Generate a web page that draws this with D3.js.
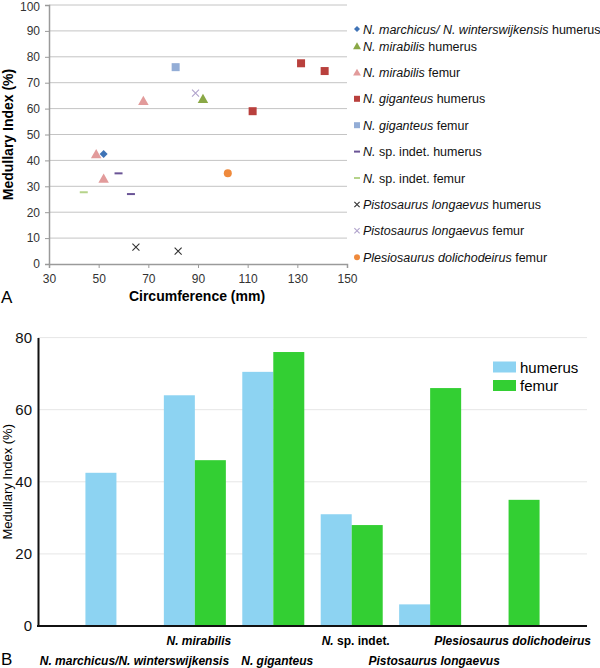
<!DOCTYPE html>
<html>
<head>
<meta charset="utf-8">
<script src="https://cdn.jsdelivr.net/npm/d3@7"></script>
<style>
  body { margin: 0; background: #fff; }
  svg { font-family: "Liberation Sans", Arial, sans-serif; display: block; }
</style>
</head>
<body>
<div id="chart"></div>
<script>
// ---- panel A data: [circumference (mm), medullary index (%)]
const marchicusHumerus = [[52, 42.5]];
const mirabilisHumerus = [[92, 63.8]];
const mirabilisFemur = [[68, 63], [49, 42.5], [52, 33]];
const giganteusHumerus = [[131.5, 77.5], [141, 74.5], [112, 59]];
const giganteusFemur = [[81, 76]];
const spIndetHumerus = [[58, 35], [63, 27]];
const spIndetFemur = [[44, 27.7]];
const pistoHumerus = [[65, 6.5], [82, 5]];
const pistoFemur = [[89, 66]];
const plesioFemur = [[102, 35]];

const xTicksA = [30, 50, 70, 90, 110, 130, 150];
const yTicksA = [0, 10, 20, 30, 40, 50, 60, 70, 80, 90, 100];

// ---- panel B data
const taxa = ["N. marchicus/N. winterswijkensis", "N. mirabilis", "N. giganteus",
  "N. sp. indet.", "Pistosaurus longaevus", "Plesiosaurus dolichodeirus"];
const humerusMI = [42.5, 64, 70.5, 31, 6, null];
const femurMI = [null, 46, 76, 28, 66, 35];
const yTicksB = [0, 20, 40, 60, 80];

const width = 600, height = 668;
const svg = d3.select("#chart").append("svg")
  .attr("width", width).attr("height", height);

// ================= panel A =================
const xA = d3.scaleLinear().domain([30, 150]).range([49, 347]);
const yA = d3.scaleLinear().domain([0, 100]).range([264, 5]);

const gA = svg.append("g");

gA.append("g").selectAll("line").data(yTicksA.filter(d => d > 0)).join("line")
  .attr("x1", xA(30)).attr("x2", xA(150))
  .attr("y1", d => yA(d)).attr("y2", d => yA(d))
  .attr("stroke", "#c4c4c4").attr("stroke-width", 1);

gA.append("g")
  .attr("transform", `translate(${xA(30)},0)`)
  .call(d3.axisLeft(yA).tickValues(yTicksA).tickSize(4).tickPadding(5))
  .call(g => g.select(".domain").attr("stroke", "#9a9a9a").attr("stroke-width", 1.5))
  .call(g => g.selectAll(".tick line").attr("stroke", "#9a9a9a"))
  .call(g => g.selectAll("text").attr("font-size", 12).attr("fill", "#333")
    .attr("dy", d => d === 100 ? "0.45em" : "0.32em")
    .attr("font-family", "Liberation Sans, Arial, sans-serif"));

gA.append("g")
  .attr("transform", `translate(0,${yA(0)})`)
  .call(d3.axisBottom(xA).tickValues(xTicksA).tickSize(4).tickPadding(6))
  .call(g => g.select(".domain").attr("stroke", "#9a9a9a").attr("stroke-width", 1.5))
  .call(g => g.selectAll(".tick line").attr("stroke", "#9a9a9a"))
  .call(g => g.selectAll("text").attr("font-size", 12).attr("fill", "#333")
    .attr("font-family", "Liberation Sans, Arial, sans-serif"));

gA.append("text")
  .attr("transform", `translate(13,${yA(50)}) rotate(-90)`)
  .attr("text-anchor", "middle")
  .attr("font-size", 14).attr("font-weight", "bold")
  .text("Medullary Index (%)");

gA.append("text")
  .attr("x", 197).attr("y", 301)
  .attr("text-anchor", "middle")
  .attr("font-size", 14).attr("font-weight", "bold")
  .text("Circumference (mm)");

svg.append("text").attr("x", 1).attr("y", 303).attr("font-size", 17).text("A");
svg.append("text").attr("x", 1).attr("y", 665).attr("font-size", 17).text("B");

// marker shapes
function drawMarker(g, type, color, s) {
  if (type === "diamond") {
    g.append("path").attr("d", `M0,${-s}L${s},0L0,${s}L${-s},0Z`).attr("fill", color);
  } else if (type === "triangle") {
    g.append("path").attr("d", `M0,${-s}L${s * 1.05},${s * 0.85}L${-s * 1.05},${s * 0.85}Z`).attr("fill", color);
  } else if (type === "square") {
    g.append("rect").attr("x", -s).attr("y", -s).attr("width", 2 * s).attr("height", 2 * s).attr("fill", color);
  } else if (type === "dash") {
    g.append("rect").attr("x", -s).attr("y", -1).attr("width", 2 * s).attr("height", 2).attr("fill", color);
  } else if (type === "cross") {
    g.append("path").attr("d", `M${-s},${-s}L${s},${s}M${-s},${s}L${s},${-s}`)
      .attr("stroke", color).attr("stroke-width", 1.1).attr("fill", "none");
  } else if (type === "circle") {
    g.append("circle").attr("r", s).attr("fill", color);
  }
}

const seriesA = [
  { pts: marchicusHumerus, type: "diamond", color: "#3f73b6", s: 4, it: "N. marchicus/ N. winterswijkensis", rest: " humerus" },
  { pts: mirabilisHumerus, type: "triangle", color: "#8aa846", s: 5, it: "N. mirabilis", rest: " humerus" },
  { pts: mirabilisFemur, type: "triangle", color: "#e29b9b", s: 5, it: "N. mirabilis", rest: " femur" },
  { pts: giganteusHumerus, type: "square", color: "#b9403d", s: 4, it: "N. giganteus", rest: " humerus" },
  { pts: giganteusFemur, type: "square", color: "#93add6", s: 4, it: "N. giganteus", rest: " femur" },
  { pts: spIndetHumerus, type: "dash", color: "#6a5496", s: 4, it: "N.", rest: " sp. indet. humerus" },
  { pts: spIndetFemur, type: "dash", color: "#b5d38a", s: 4, it: "N.", rest: " sp. indet. femur" },
  { pts: pistoHumerus, type: "cross", color: "#333", s: 3.5, it: "Pistosaurus longaevus", rest: " humerus" },
  { pts: pistoFemur, type: "cross", color: "#b0a3cc", s: 3.5, it: "Pistosaurus longaevus", rest: " femur" },
  { pts: plesioFemur, type: "circle", color: "#ef8a3c", s: 4, it: "Plesiosaurus dolichodeirus", rest: " femur" }
];

seriesA.forEach(sr => {
  sr.pts.forEach(p => {
    const g = gA.append("g").attr("transform", `translate(${xA(p[0])},${yA(p[1])})`);
    drawMarker(g, sr.type, sr.color, sr.s);
  });
});

// legend A
const legY = i => i === 0 ? 29 : 46 + (i - 1) * 26.4;
seriesA.forEach((sr, i) => {
  const g = gA.append("g").attr("transform", `translate(357,${legY(i)})`);
  drawMarker(g, sr.type, sr.color, sr.s * 0.75);
  const t = g.append("text").attr("x", 6).attr("y", 4.5).attr("font-size", 12.5).attr("fill", "#111");
  t.append("tspan").attr("font-style", "italic").text(sr.it);
  t.append("tspan").text(sr.rest);
});

// ================= panel B =================
const xB = d3.scalePoint().domain(taxa).range([38, 587]).padding(1);
const yB = d3.scaleLinear().domain([0, 80]).range([626, 337.6]);
const barW = 31;

const gB = svg.append("g");

gB.append("g").selectAll("line").data(yTicksB.filter(d => d > 0)).join("line")
  .attr("x1", 38).attr("x2", 587)
  .attr("y1", d => yB(d)).attr("y2", d => yB(d))
  .attr("stroke", "#e6e6e6").attr("stroke-width", 1);

gB.append("g").selectAll("rect.h").data(taxa.map((t, i) => [t, humerusMI[i]]).filter(d => d[1] != null))
  .join("rect")
  .attr("x", d => xB(d[0]) - barW)
  .attr("y", d => yB(d[1]))
  .attr("width", barW)
  .attr("height", d => yB(0) - yB(d[1]))
  .attr("fill", "#8dd3f2");

gB.append("g").selectAll("rect.f").data(taxa.map((t, i) => [t, femurMI[i]]).filter(d => d[1] != null))
  .join("rect")
  .attr("x", d => xB(d[0]))
  .attr("y", d => yB(d[1]))
  .attr("width", barW)
  .attr("height", d => yB(0) - yB(d[1]))
  .attr("fill", "#33cf33");

gB.append("g")
  .attr("transform", "translate(38,0)")
  .call(d3.axisLeft(yB).tickValues(yTicksB).tickSize(0).tickPadding(6))
  .call(g => g.select(".domain").attr("stroke", "#111").attr("stroke-width", 2))
  .call(g => g.selectAll("text").attr("font-size", 15).attr("fill", "#111")
    .attr("font-family", "Liberation Sans, Arial, sans-serif"));

gB.append("line")
  .attr("x1", 37).attr("x2", 587)
  .attr("y1", yB(0)).attr("y2", yB(0))
  .attr("stroke", "#111").attr("stroke-width", 2);

gB.append("text")
  .attr("transform", `translate(12,${yB(40)}) rotate(-90)`)
  .attr("text-anchor", "middle")
  .attr("font-size", 13)
  .text("Medullary Index (%)");

// category labels, staggered in two rows
taxa.forEach((t, i) => {
  const txt = gB.append("text")
    .attr("x", xB(t) + (i === 0 ? 18 : 4))
    .attr("y", i % 2 === 1 ? 645 : 665)
    .attr("text-anchor", "middle")
    .attr("font-size", 12).attr("font-weight", "bold");
  if (t.startsWith("N. sp.")) {
    txt.append("tspan").attr("font-style", "italic").text("N.");
    txt.append("tspan").text(" sp. indet.");
  } else {
    txt.append("tspan").attr("font-style", "italic").text(t);
  }
});

// legend B
const legB = [["humerus", "#8dd3f2"], ["femur", "#33cf33"]];
legB.forEach((d, i) => {
  const g = gB.append("g").attr("transform", `translate(493,${361.5 + i * 18.5})`);
  g.append("rect").attr("width", 23).attr("height", 11).attr("fill", d[1]);
  g.append("text").attr("x", 27).attr("y", 11).attr("font-size", 15).text(d[0]);
});
</script>
</body>
</html>
